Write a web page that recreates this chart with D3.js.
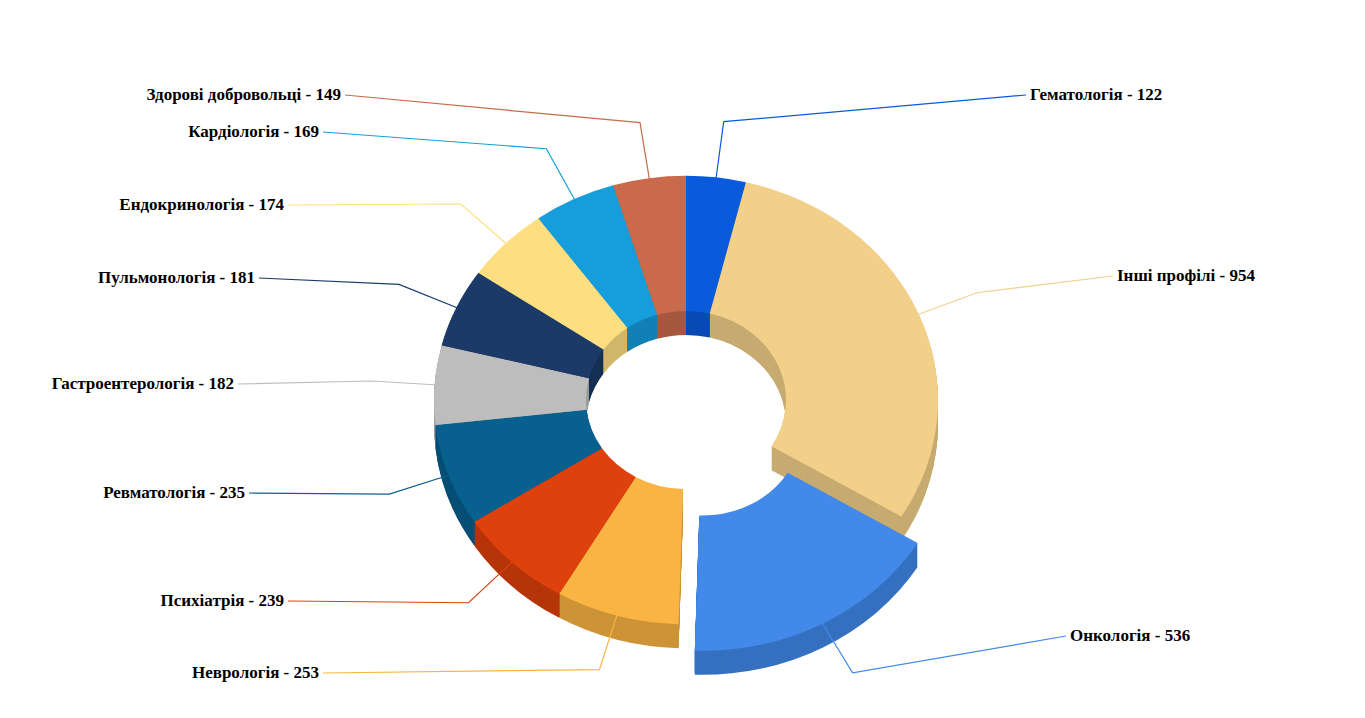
<!DOCTYPE html>
<html><head><meta charset="utf-8">
<script src="https://cdn.jsdelivr.net/npm/d3@7"></script>
<style>body{margin:0;background:#fff}</style></head>
<body><svg id="c" width="1365" height="718"></svg>
<script>
const categories=["Гематологія","Інші профілі","Онкологія","Неврологія","Психіатрія","Ревматологія","Гастроентерологія","Пульмонологія","Ендокринологія","Кардіологія","Здорові добровольці"];
const values=[122,954,536,253,239,235,182,181,174,169,149];
const colors=["#0a5bdc","#f2d08a","#4289ea","#f9b443","#de410c","#08608f","#bdbdbd","#1b3a68","#fddf82","#169ddc","#c96b4b"];
const labelPos=[[1030,100,"start"],[1117,281,"start"],[1070,641,"start"],[319,678,"end"],[284,606,"end"],[245,498,"end"],[234,389,"end"],[255,283,"end"],[284,210,"end"],[319,137,"end"],[341,100,"end"]];
const cx=686,cy=400,R=252,r0=100,sy=0.89,depth=24,explode=2,expDist=34;
const svg=d3.select("#c");
const pie=d3.pie().sort(null).value(d=>d)(values);
const arc=d3.arc().innerRadius(r0).outerRadius(R);
const off=(d,i)=>{if(i!==explode)return[0,0];const m=(d.startAngle+d.endAngle)/2;return[Math.sin(m)*expDist,-Math.cos(m)*expDist*sy];};
const g=svg.append("g");
for(let k=depth;k>=0;k--){
  pie.forEach((d,i)=>{const o=off(d,i);
    const col=k===0?colors[i]:d3.color(colors[i]).darker(0.55).toString();
    g.append("path").attr("d",arc(d)).attr("fill",col)
     .attr("transform",`translate(${cx+o[0]},${cy+o[1]+k}) scale(1,${sy})`);
  });
}
pie.forEach((d,i)=>{
  const m=(d.startAngle+d.endAngle)/2,o=off(d,i);
  const p=rr=>[cx+o[0]+Math.sin(m)*rr,cy+o[1]-Math.cos(m)*rr*sy];
  const a=p(R*0.97),e=p(R*1.25),lp=labelPos[i];
  const tx=lp[2]==="start"?lp[0]-4:lp[0]+4;
  svg.append("polyline").attr("points",[a,e,[tx,lp[1]-5]].map(q=>q.join(",")).join(" "))
    .attr("fill","none").attr("stroke",colors[i]).attr("stroke-width",1.2);
  svg.append("text").attr("x",lp[0]).attr("y",lp[1]).attr("text-anchor",lp[2])
    .attr("font-family","Liberation Serif").attr("font-weight","bold").attr("font-size",17)
    .text(categories[i]+" - "+values[i]);
});
</script></body></html>
